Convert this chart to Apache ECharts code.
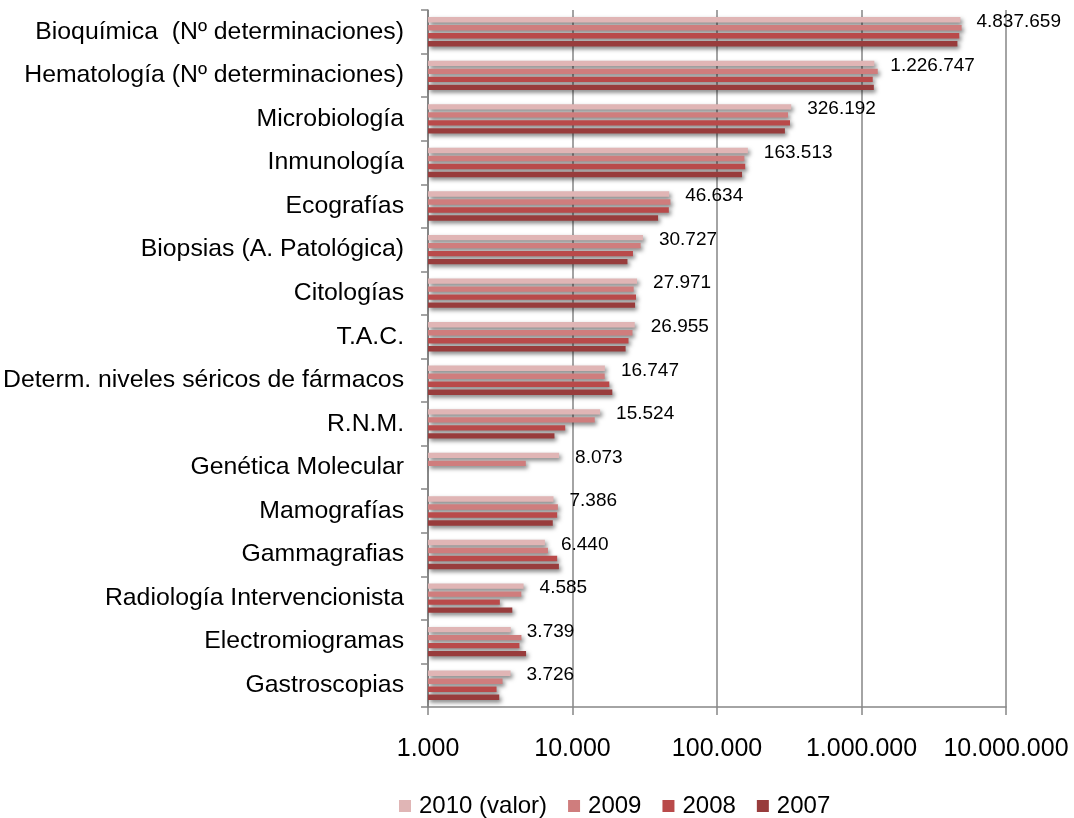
<!DOCTYPE html>
<html>
<head>
<meta charset="utf-8">
<script src="https://cdn.jsdelivr.net/npm/echarts@6/dist/echarts.min.js"></script>
<style>html,body{margin:0;padding:0;background:#fff;}#c{width:1074px;height:818px;}</style>
</head>
<body>
<div id="c"></div>
<script>
const categories = ["Bioquímica  (Nº determinaciones)", "Hematología (Nº determinaciones)", "Microbiología", "Inmunología", "Ecografías", "Biopsias (A. Patológica)", "Citologías", "T.A.C.", "Determ. niveles séricos de fármacos", "R.N.M.", "Genética Molecular", "Mamografías", "Gammagrafias", "Radiología Intervencionista", "Electromiogramas", "Gastroscopias"];
const seriesNames = ["2010 (valor)", "2009", "2008", "2007"];
const v2010 = [4837659, 1226747, 326192, 163513, 46634, 30727, 27971, 26955, 16747, 15524, 8073, 7386, 6440, 4585, 3739, 3726];
const v2009 = [4930000, 1295000, 310000, 154700, 47600, 29600, 26500, 26000, 16700, 14250, 4750, 7920, 6760, 4420, 4430, 3280];
const v2008 = [4750000, 1196000, 320000, 156700, 46400, 26200, 27500, 24400, 17970, 8900, null, 7830, 7830, 3140, 4290, 2980];
const v2007 = [4610000, 1217000, 295000, 149000, 39100, 24000, 27100, 23300, 18850, 7500, null, 7300, 8050, 3830, 4770, 3110];
const xTicks = ["1.000", "10.000", "100.000", "1.000.000", "10.000.000"];
const colors = ["#E0B5B5", "#CF7D7D", "#B94A4A", "#983C3C"];

const FONT = "'Liberation Sans', Arial, sans-serif";
const fmt = n => String(Math.round(n)).replace(/\B(?=(\d{3})+(?!\d))/g, ".");
const tickMap = {};
[1000, 10000, 100000, 1000000, 10000000].forEach((v, i) => tickMap[v] = xTicks[i]);

const dataSets = [v2010, v2009, v2008, v2007];
const series = dataSets.map((d, i) => ({
  name: seriesNames[i],
  type: 'bar',
  data: d.map(v => v == null ? '-' : v),
  barWidth: 5.4,
  barGap: '48%',
  clip: true,
  itemStyle: {
    color: colors[i],
    shadowColor: 'rgba(0,0,0,0.5)',
    shadowBlur: 4,
    shadowOffsetX: 2,
    shadowOffsetY: 2.5
  },
  label: i === 0 ? {
    show: true,
    position: 'right',
    distance: 16,
    offset: [0, 2],
    formatter: p => fmt(p.value),
    fontFamily: FONT,
    fontSize: 19,
    color: '#000'
  } : { show: false }
}));

const chart = echarts.init(document.getElementById('c'));
chart.setOption({
  animation: false,
  backgroundColor: '#fff',
  grid: { left: 427, right: 68, top: 10, bottom: 111, containLabel: false },
  legend: {
    data: seriesNames,
    top: 789,
    left: 394,
    itemWidth: 12,
    itemHeight: 12,
    itemGap: 21,
    icon: 'rect',
    textStyle: { fontFamily: FONT, fontSize: 24, color: '#000', padding: [0, 0, 0, 3] }
  },
  xAxis: {
    type: 'log',
    logBase: 10,
    min: 1000,
    max: 10000000,
    axisLine: { show: true, lineStyle: { color: '#868686', width: 1.5 } },
    axisTick: { show: true, length: 8, inside: false, lineStyle: { color: '#868686', width: 1.5 } },
    splitLine: { show: true, lineStyle: { color: '#868686', width: 1.5 } },
    minorTick: { show: false },
    axisLabel: {
      margin: 30,
      fontFamily: FONT,
      fontSize: 25,
      color: '#000',
      formatter: v => tickMap[Math.round(v)] || ''
    }
  },
  yAxis: {
    type: 'category',
    inverse: true,
    data: categories,
    axisLine: { show: true, lineStyle: { color: '#868686', width: 1.5 } },
    axisTick: { show: true, length: 7, lineStyle: { color: '#868686', width: 1.5 } },
    axisLabel: {
      margin: 24,
      fontFamily: FONT,
      fontSize: 24.8,
      color: '#000'
    }
  },
  series: series
});
</script>
</body>
</html>
